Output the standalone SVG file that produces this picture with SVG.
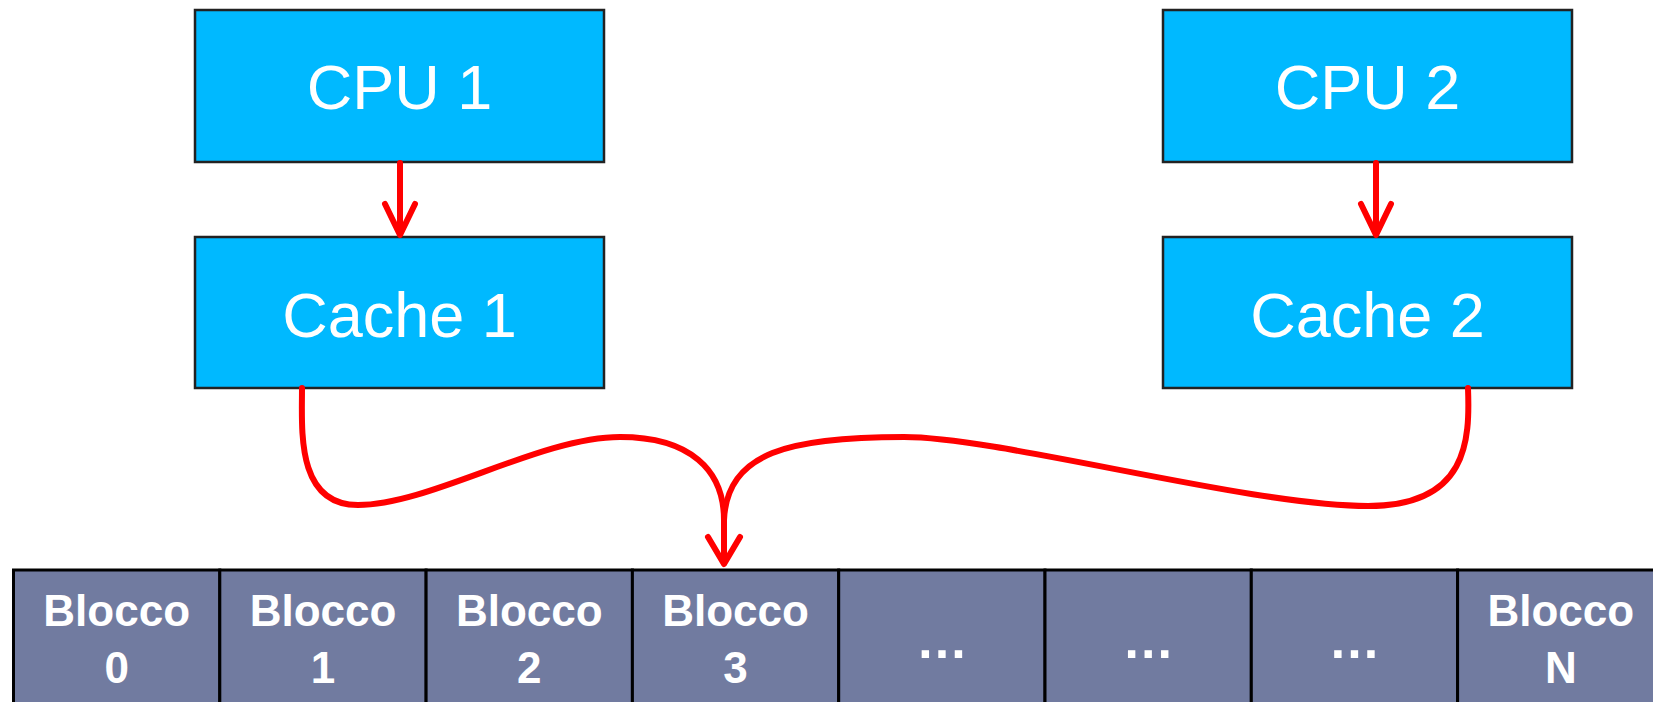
<svg xmlns="http://www.w3.org/2000/svg" width="1653" height="702" viewBox="0 0 1653 702">
<style>
.box{fill:#00B9FF;stroke:#222;stroke-width:2.5}
.bt{font-family:"Liberation Sans",Arial,sans-serif;font-size:63px;fill:#fff;text-anchor:middle}
.cell{fill:#717BA0;stroke:#000;stroke-width:3}
.ct{font-family:"Liberation Sans",Arial,sans-serif;font-weight:bold;font-size:44px;fill:#fff;text-anchor:middle}
.dots{font-family:"Liberation Sans",Arial,sans-serif;font-weight:bold;font-size:52px;fill:#fff;text-anchor:middle}
.red{fill:none;stroke:#FF0000;stroke-width:6;stroke-linecap:round;stroke-linejoin:round}
</style>
<rect width="1653" height="702" fill="#fff"/>
<g id="cpu1"><rect class="box" x="195" y="10" width="409" height="152"/><text class="bt" x="399.5" y="109">CPU 1</text></g>
<g id="cache1"><rect class="box" x="195" y="237" width="409" height="151"/><text class="bt" x="399.5" y="337">Cache 1</text></g>
<g id="cpu2"><rect class="box" x="1163" y="10" width="409" height="152"/><text class="bt" x="1367.5" y="109">CPU 2</text></g>
<g id="cache2"><rect class="box" x="1163" y="237" width="409" height="151"/><text class="bt" x="1367.5" y="337">Cache 2</text></g>
<g id="memory">
<g id="b0"><rect class="cell" x="13.5" y="570" width="206.3" height="150"/><text class="ct" x="116.7" y="626">Blocco</text><text class="ct" x="116.7" y="683">0</text></g>
<g id="b1"><rect class="cell" x="219.8" y="570" width="206.3" height="150"/><text class="ct" x="323" y="626">Blocco</text><text class="ct" x="323" y="683">1</text></g>
<g id="b2"><rect class="cell" x="426.1" y="570" width="206.3" height="150"/><text class="ct" x="529.3" y="626">Blocco</text><text class="ct" x="529.3" y="683">2</text></g>
<g id="b3"><rect class="cell" x="632.4" y="570" width="206.3" height="150"/><text class="ct" x="735.6" y="626">Blocco</text><text class="ct" x="735.6" y="683">3</text></g>
<g id="b4"><rect class="cell" x="838.7" y="570" width="206.3" height="150"/><text class="dots" x="941.9" y="658">…</text></g>
<g id="b5"><rect class="cell" x="1045" y="570" width="206.3" height="150"/><text class="dots" x="1148.2" y="658">…</text></g>
<g id="b6"><rect class="cell" x="1251.3" y="570" width="206.3" height="150"/><text class="dots" x="1354.5" y="658">…</text></g>
<g id="bN"><rect class="cell" x="1457.6" y="570" width="206.3" height="150"/><text class="ct" x="1560.8" y="626">Blocco</text><text class="ct" x="1560.8" y="683">N</text></g>
</g>
<g id="connectors">
<path class="red" d="M400,163 L400,234 M385,204 L400,235 L415,204"/>
<path class="red" d="M1376,163 L1376,234 M1361,204 L1376,235 L1391,204"/>
<path class="red" d="M302,388 C302,430 296,505 358,505 C430,505 540,437 620,437 C690,437 724,470 724,520 L724,563"/>
<path class="red" d="M1468,388 C1470,440 1468,506 1368,506 C1250,506 1000,437 904,437 C790,437 727,452 724,520"/>
<path class="red" d="M708,537 L724,564 L740,537"/>
</g>
</svg>
